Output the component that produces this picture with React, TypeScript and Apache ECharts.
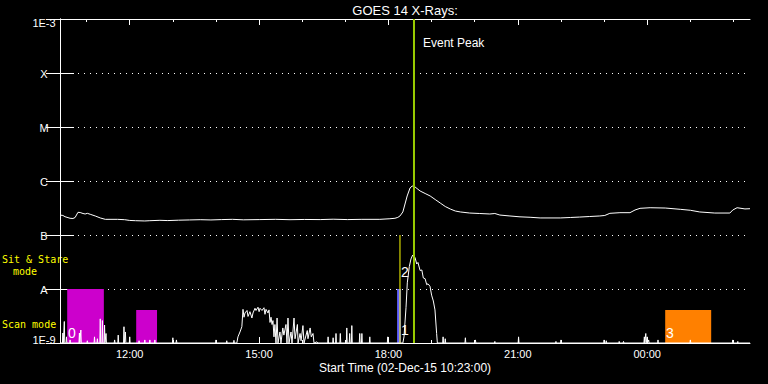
import React, { useEffect, useRef } from 'react';
import * as echarts from 'echarts';

// ---- Axis definitions (minutes after the start time 02-Dec-15 10:23:00) ----
const startTimeLabel = '02-Dec-15 10:23:00';
const spanMinutes = 960;
const hourTicks = [37, 97, 157, 217, 277, 337, 397, 457, 517, 577, 637, 697, 757, 817, 877, 937];
const majorTicks = [97, 277, 457, 637, 817];
const majorTickLabels = ['12:00', '15:00', '18:00', '21:00', '00:00'];
const levelLabels = ['1E-9', 'A', 'B', 'C', 'M', 'X', '1E-3'];

// ---- Long channel (1-8 A) ----
const longTimes = [0, 4, 7, 14, 18, 21, 25, 28, 32, 35, 38, 42, 49, 56, 63, 80, 90, 97, 105, 118, 125, 139, 150, 165, 180, 195, 210, 225, 240, 255, 278, 300, 320, 340, 362, 380, 400, 420, 445, 459, 466, 470, 473, 477, 480, 483, 487, 490, 494, 501, 508, 515, 522, 529, 536, 543, 550, 557, 570, 584, 598, 605, 612, 626, 640, 654, 668, 696, 710, 723, 737, 751, 758, 765, 779, 793, 800, 807, 821, 842, 863, 877, 890, 911, 932, 936, 942, 953, 960];
const longFlux = [2.34e-7, 2.3e-7, 2.18e-7, 2.04e-7, 2.02e-7, 2.11e-7, 2.63e-7, 2.61e-7, 2.5e-7, 2.45e-7, 2.52e-7, 2.42e-7, 2.25e-7, 2.07e-7, 1.95e-7, 1.95e-7, 1.92e-7, 1.86e-7, 1.84e-7, 1.82e-7, 1.84e-7, 1.87e-7, 1.85e-7, 1.88e-7, 1.9e-7, 1.92e-7, 1.9e-7, 1.93e-7, 1.95e-7, 1.91e-7, 1.93e-7, 1.95e-7, 1.92e-7, 1.94e-7, 1.93e-7, 1.96e-7, 1.93e-7, 1.95e-7, 1.95e-7, 2.0e-7, 2.04e-7, 2.12e-7, 2.25e-7, 2.67e-7, 3.75e-7, 5.28e-7, 7.42e-7, 8.07e-7, 7.74e-7, 6.53e-7, 5.87e-7, 5.28e-7, 4.54e-7, 3.91e-7, 3.37e-7, 3.03e-7, 2.78e-7, 2.67e-7, 2.55e-7, 2.5e-7, 2.45e-7, 2.5e-7, 2.34e-7, 2.25e-7, 2.17e-7, 2.13e-7, 2.07e-7, 2.07e-7, 2.11e-7, 2.15e-7, 2.2e-7, 2.25e-7, 2.3e-7, 2.52e-7, 2.59e-7, 2.59e-7, 2.9e-7, 3.12e-7, 3.2e-7, 3.16e-7, 2.99e-7, 2.87e-7, 2.67e-7, 2.55e-7, 2.55e-7, 2.9e-7, 3.2e-7, 3.04e-7, 3.07e-7];

// ---- Short channel (0.5-4 A): isolated spikes, a noisy burst and the flare ----
const floorFlux = 1e-9;
const spikeTimes = [4, 6, 9, 14, 27, 29, 38, 48, 52, 56, 59, 62, 64, 76, 81, 89, 91, 97, 110, 118, 125, 132, 157, 162, 217, 232, 242, 373, 380, 384, 390, 399, 403, 406, 417, 420, 431, 456, 533, 536, 564, 578, 605, 638, 690, 697, 757, 760, 778, 784, 813, 815, 817, 819, 832, 877, 936, 943];
const spikeFlux = [1.53e-9, 2.5e-9, 1.3e-9, 1.14e-9, 1.53e-9, 1.74e-9, 1.1e-9, 1.3e-9, 1.2e-9, 2.8e-9, 2.6e-9, 2.15e-9, 1.5e-9, 1.14e-9, 1.4e-9, 2.0e-9, 1.6e-9, 1.3e-9, 1.1e-9, 1.14e-9, 1.14e-9, 1.14e-9, 1.25e-9, 1.14e-9, 1.14e-9, 1.1e-9, 1.12e-9, 1.3e-9, 1.25e-9, 1.5e-9, 1.5e-9, 1.9e-9, 1.5e-9, 2.1e-9, 1.5e-9, 1.5e-9, 1.3e-9, 1.3e-9, 1.3e-9, 1.2e-9, 1.25e-9, 1.14e-9, 1.07e-9, 1.3e-9, 1.07e-9, 1.14e-9, 1.14e-9, 1.1e-9, 1.07e-9, 1.07e-9, 1.3e-9, 1.5e-9, 1.3e-9, 1.14e-9, 1.14e-9, 1.14e-9, 1.14e-9, 1.07e-9];
const burstTimes = [246, 247.6, 250.4, 253, 254.6, 256, 257.4, 260.2, 261.6, 264.3, 267, 268.5, 271.3, 272.7, 275.5, 277, 278.3, 281, 283.8, 285.2, 286.6, 289.4, 290.8, 292.2, 293.6, 295, 296.3, 297.7, 299, 300.5, 302, 303.3, 306, 307.4, 310, 311.5, 314.4, 315.8, 317.2, 318.6, 321.4, 322.8, 325.6, 327, 330.3, 331.2, 334, 335.4, 338, 339.5, 344, 345, 348, 349.6, 352, 353.4, 357.6, 359];
const burstFlux = [1e-9, 1.3e-9, 1.6e-9, 2.0e-9, 4.2e-9, 3.0e-9, 3.6e-9, 4.0e-9, 3.1e-9, 3.8e-9, 2.9e-9, 3.6e-9, 4.4e-9, 4.0e-9, 4.6e-9, 3.8e-9, 4.4e-9, 4.0e-9, 4.5e-9, 3.4e-9, 4.2e-9, 3.6e-9, 4.1e-9, 2.4e-9, 3.0e-9, 2.2e-9, 2.6e-9, 1.3e-9, 2.2e-9, 1.0e-9, 2.9e-9, 1.0e-9, 1.6e-9, 1.0e-9, 1.9e-9, 1.4e-9, 2.2e-9, 1.0e-9, 2.9e-9, 1.0e-9, 1.6e-9, 1.0e-9, 2.9e-9, 1.2e-9, 2.2e-9, 1.0e-9, 1.5e-9, 1.1e-9, 2.1e-9, 1.0e-9, 1.7e-9, 1.2e-9, 1.9e-9, 1.3e-9, 1.5e-9, 1.0e-9, 1.05e-9, 1e-9];
const flareTimes = [477, 478.6, 481.4, 483.2, 486, 488.3, 490.7, 494, 496.3, 498, 501, 503.4, 505.5, 508, 510.2, 512, 514.8, 517, 519.4, 521.7, 524, 525];
const flareFlux = [1e-9, 1.3e-9, 4.5e-9, 1.3e-8, 2.6e-8, 3.6e-8, 4.26e-8, 3.8e-8, 2.9e-8, 3.1e-8, 2.2e-8, 2.25e-8, 1.6e-8, 1.55e-8, 1.2e-8, 1.25e-8, 1.12e-8, 7.7e-9, 6.0e-9, 4.1e-9, 1.5e-9, 1e-9];

// ---- Observation blocks ----
const blockStart = [10, 106, 469, 842];
const blockEnd = [61, 135, 474.5, 906];
const blockTop = [1e-8, 4.1e-9, 1e-8, 4.1e-9];
const blockColors = ['#cc00cc', '#cc00cc', '#6060ff', '#ff8000'];

// ---- Numbered markers ----
const markerTexts = ['0', '1', '2', '3'];
const markerTimes = [11, 474.5, 474.5, 843];
const markerFlux = [1.53e-9, 1.74e-9, 2.06e-8, 1.53e-9];

// ---- Vertical event lines ----
const eventTimes = [473, 492.5];
const eventTops = [1e-7, 1e-3];
const eventColors = ['#ffff00', '#99cc00'];
const eventWidths = [1, 2];

const FONT = 'Liberation Sans';

export default function App() {
  const ref = useRef<HTMLDivElement>(null);

  useEffect(() => {
    document.body.style.margin = '0';
    document.body.style.background = '#000';
    const chart = echarts.init(ref.current!, undefined, { renderer: 'svg' });

    const shortPts: number[][] = [[0, floorFlux]];
    spikeTimes.forEach((t, i) => {
      shortPts.push([t - 0.6, floorFlux], [t, spikeFlux[i]], [t + 0.6, floorFlux]);
    });
    burstTimes.forEach((t, i) => shortPts.push([t, burstFlux[i]]));
    flareTimes.forEach((t, i) => shortPts.push([t, flareFlux[i]]));
    shortPts.push([spanMinutes, floorFlux]);
    shortPts.sort((a, b) => a[0] - b[0]);

    const longPts = longTimes.map((t, i) => [t, longFlux[i]]);

    const xBase: any = {
      type: 'value',
      min: 0,
      max: spanMinutes,
      splitLine: { show: false },
    };
    const white = { color: '#fff', width: 1 };
    const labelFor = (v: number) => {
      let best = 0;
      majorTicks.forEach((m, i) => {
        if (Math.abs(m - v) < Math.abs(majorTicks[best] - v)) best = i;
      });
      return majorTickLabels[best];
    };
    const levelFormatter = (v: number) => {
      const idx = Math.round(Math.log10(v)) + 9;
      const txt = levelLabels[idx] ?? '';
      if (idx === 0) return `{lo|${txt}}`;
      if (idx === levelLabels.length - 1) return `{hi|${txt}}`;
      return `{mid|${txt}}`;
    };
    const richBase = { color: '#fff', fontSize: 11, fontFamily: FONT };

    const option: any = {
      animation: false,
      backgroundColor: '#000',
      grid: { left: 60, right: 18, top: 19, bottom: 41, containLabel: false },
      xAxis: [
        {
          ...xBase,
          position: 'bottom',
          axisLine: { show: true, lineStyle: white },
          axisTick: { show: true, inside: true, length: 6, customValues: majorTicks, lineStyle: white },
          axisLabel: {
            show: true,
            customValues: majorTicks,
            formatter: (v: number) => labelFor(v),
            color: '#fff',
            fontSize: 11,
            fontFamily: FONT,
            margin: 5,
          },
        },
        {
          ...xBase,
          position: 'bottom',
          axisLine: { show: false },
          axisTick: { show: true, inside: true, length: 3, customValues: hourTicks, lineStyle: white },
          axisLabel: { show: false },
        },
        {
          ...xBase,
          position: 'top',
          axisLine: { show: true, lineStyle: white },
          axisTick: { show: true, inside: true, length: 6, customValues: majorTicks, lineStyle: white },
          axisLabel: { show: false },
        },
        {
          ...xBase,
          position: 'top',
          axisLine: { show: false },
          axisTick: { show: true, inside: true, length: 3, customValues: hourTicks, lineStyle: white },
          axisLabel: { show: false },
        },
      ],
      yAxis: [
        {
          type: 'log',
          logBase: 10,
          min: 1e-9,
          max: 1e-3,
          splitNumber: 6,
          position: 'left',
          axisLine: { show: true, lineStyle: white },
          axisTick: { show: true, inside: true, length: 14, lineStyle: white },
          minorTick: { show: false },
          axisLabel: {
            show: true,
            formatter: levelFormatter,
            align: 'center',
            margin: 16,
            color: '#fff',
            fontSize: 11,
            fontFamily: FONT,
            rich: {
              lo: { ...richBase, padding: [0, 0, 6, 0] },
              hi: { ...richBase, padding: [8, 0, 0, 0] },
              mid: { ...richBase, padding: [2, 0, 0, 0] },
            },
          },
          splitLine: { show: true, lineStyle: { color: '#fff', width: 1, type: [1, 5] } },
        },
        {
          type: 'log',
          logBase: 10,
          min: 1e-9,
          max: 1e-3,
          splitNumber: 6,
          position: 'right',
          axisLine: { show: true, lineStyle: white },
          axisTick: { show: true, inside: true, length: 14, lineStyle: white },
          minorTick: { show: false },
          axisLabel: { show: false },
          splitLine: { show: false },
        },
      ],
      graphic: [
        {
          type: 'text',
          x: 405,
          y: 10,
          style: {
            text: 'GOES 14 X-Rays:',
            fill: '#fff',
            fontSize: 13,
            fontFamily: FONT,
            align: 'center',
            verticalAlign: 'middle',
            textAlign: 'center',
            textVerticalAlign: 'middle',
          },
        },
        {
          type: 'text',
          x: 405,
          y: 368,
          style: {
            text: `Start Time (${startTimeLabel})`,
            fill: '#fff',
            fontSize: 12,
            fontFamily: FONT,
            align: 'center',
            verticalAlign: 'middle',
            textAlign: 'center',
            textVerticalAlign: 'middle',
          },
        },
        {
          type: 'text',
          x: 2,
          y: 259,
          style: {
            text: 'Sit & Stare',
            fill: '#ffff00',
            fontSize: 10,
            fontFamily: 'DejaVu Sans Mono',
            align: 'left',
            verticalAlign: 'middle',
            textAlign: 'left',
            textVerticalAlign: 'middle',
          },
        },
        {
          type: 'text',
          x: 13,
          y: 271,
          style: {
            text: 'mode',
            fill: '#ffff00',
            fontSize: 10,
            fontFamily: 'DejaVu Sans Mono',
            align: 'left',
            verticalAlign: 'middle',
            textAlign: 'left',
            textVerticalAlign: 'middle',
          },
        },
        {
          type: 'text',
          x: 2,
          y: 324,
          style: {
            text: 'Scan mode',
            fill: '#ffff00',
            fontSize: 10,
            fontFamily: 'DejaVu Sans Mono',
            align: 'left',
            verticalAlign: 'middle',
            textAlign: 'left',
            textVerticalAlign: 'middle',
          },
        },
      ],
      series: [
        {
          type: 'custom',
          name: 'blocks',
          xAxisIndex: 0,
          yAxisIndex: 0,
          z: 1,
          encode: { x: [0, 1], y: 2 },
          data: blockStart.map((s, i) => [s, blockEnd[i], blockTop[i]]),
          renderItem: (params: any, api: any) => {
            const a = api.coord([api.value(0), api.value(2)]);
            const b = api.coord([api.value(1), floorFlux]);
            return {
              type: 'rect',
              shape: { x: a[0], y: a[1], width: b[0] - a[0], height: b[1] - a[1] },
              style: { fill: blockColors[params.dataIndex] },
            };
          },
        },
        {
          type: 'custom',
          name: 'events',
          xAxisIndex: 0,
          yAxisIndex: 0,
          z: 4,
          encode: { x: 0, y: 1 },
          data: eventTimes.map((t, i) => [t, eventTops[i]]),
          renderItem: (params: any, api: any) => {
            const i = params.dataIndex;
            const top = api.coord([api.value(0), api.value(1)]);
            const bot = api.coord([api.value(0), floorFlux]);
            const children: any[] = [
              {
                type: 'line',
                shape: { x1: top[0], y1: top[1], x2: bot[0], y2: bot[1] },
                style: { stroke: eventColors[i], lineWidth: eventWidths[i] },
              },
            ];
            if (i === eventTimes.length - 1) {
              children.push({
                type: 'text',
                style: {
                  text: 'Event Peak',
                  x: top[0] + 9,
                  y: top[1] + 24,
                  fill: '#fff',
                  fontSize: 12,
                  fontFamily: FONT,
                  align: 'left',
                  verticalAlign: 'middle',
                  textAlign: 'left',
                  textVerticalAlign: 'middle',
                },
              });
            }
            return { type: 'group', children };
          },
        },
        {
          type: 'line',
          name: 'long',
          xAxisIndex: 0,
          yAxisIndex: 0,
          z: 3,
          data: longPts,
          showSymbol: false,
          symbol: 'none',
          clip: true,
          lineStyle: { color: '#fff', width: 1 },
        },
        {
          type: 'line',
          name: 'short',
          xAxisIndex: 0,
          yAxisIndex: 0,
          z: 3,
          data: shortPts,
          showSymbol: false,
          symbol: 'none',
          clip: true,
          lineStyle: { color: '#fff', width: 1 },
        },
        {
          type: 'custom',
          name: 'markers',
          xAxisIndex: 0,
          yAxisIndex: 0,
          z: 5,
          encode: { x: 0, y: 1 },
          data: markerTimes.map((t, i) => [t, markerFlux[i]]),
          renderItem: (params: any, api: any) => {
            const p = api.coord([api.value(0), api.value(1)]);
            return {
              type: 'text',
              style: {
                text: markerTexts[params.dataIndex],
                x: p[0],
                y: p[1],
                fill: '#fff',
                fontSize: 14,
                fontFamily: FONT,
                align: 'left',
                verticalAlign: 'middle',
                textAlign: 'left',
                textVerticalAlign: 'middle',
              },
            };
          },
        },
      ],
    };

    chart.setOption(option);
    return () => chart.dispose();
  }, []);

  return (
    <div
      ref={ref}
      style={{ position: 'fixed', left: 0, top: 0, width: 768, height: 384, background: '#000' }}
    />
  );
}
